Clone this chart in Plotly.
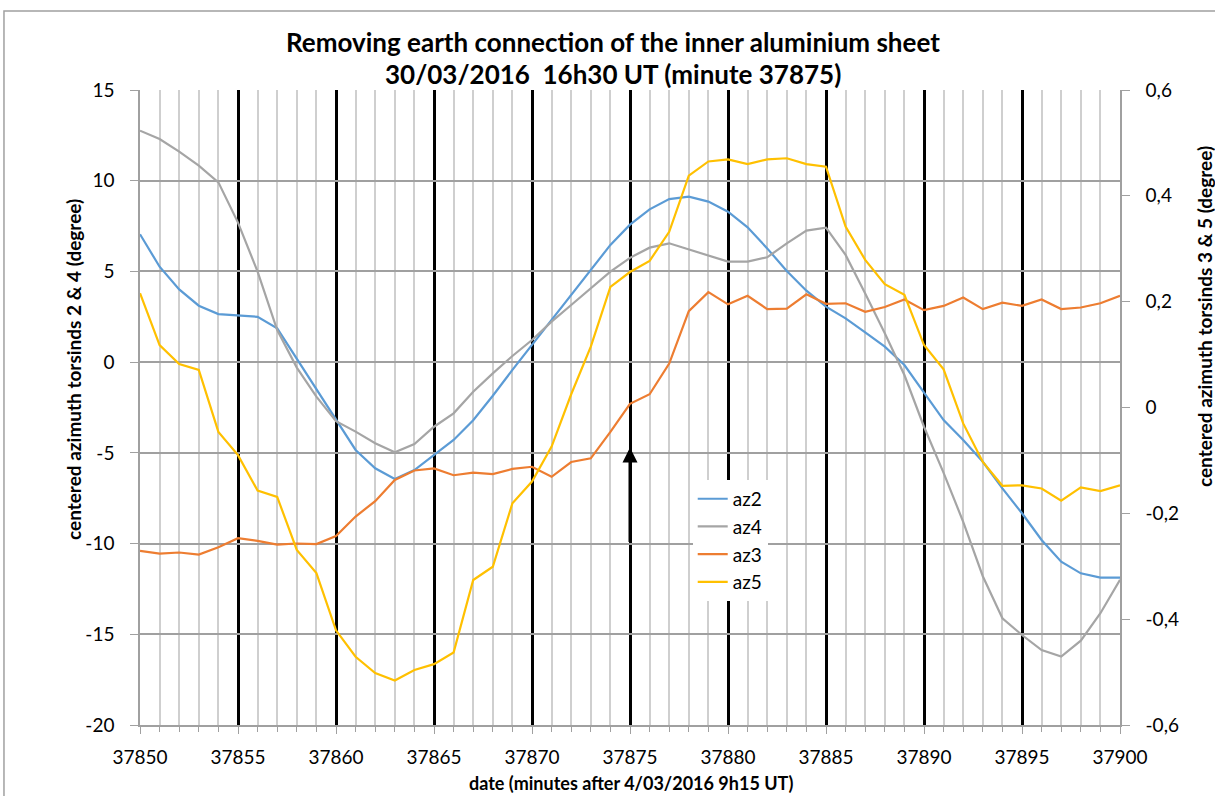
import plotly.graph_objects as go

minutes = list(range(37850, 37901))

az2 = [7.05, 5.26, 4.01, 3.11, 2.65, 2.58, 2.50, 1.86, 0.17, -1.52,
       -3.2, -4.84, -5.85, -6.44, -5.95, -5.12, -4.29, -3.20, -1.85, -0.43,
       0.95, 2.32, 3.70, 5.08, 6.46, 7.58, 8.42, 8.99, 9.12, 8.85,
       8.29, 7.43, 6.27, 5.02, 3.94, 3.06, 2.41, 1.64, 0.85, -0.16,
       -1.70, -3.19, -4.29, -5.49, -6.96, -8.33, -9.80, -11.0, -11.64, -11.88,
       -11.88]

az4 = [12.76, 12.30, 11.60, 10.83, 9.91, 7.69, 4.99, 1.77, -0.30, -1.90,
       -3.25, -3.83, -4.47, -4.97, -4.51, -3.56, -2.82, -1.63, -0.62, 0.34,
       1.22, 2.23, 3.15, 4.07, 4.99, 5.75, 6.31, 6.55, 6.22, 5.91,
       5.54, 5.54, 5.78, 6.55, 7.25, 7.41, 5.91, 3.79, 1.59, -0.71,
       -3.56, -6.10, -8.80, -11.80, -14.12, -15.04, -15.87, -16.23, -15.35, -13.84,
       -12.0]

az3 = [-0.271, -0.276, -0.274, -0.278, -0.264, -0.247, -0.252, -0.259, -0.257, -0.258,
       -0.243, -0.206, -0.177, -0.137, -0.119, -0.115, -0.128, -0.123, -0.126, -0.116,
       -0.112, -0.131, -0.103, -0.096, -0.046, 0.007, 0.025, 0.083, 0.182, 0.218,
       0.195, 0.211, 0.186, 0.187, 0.214, 0.196, 0.197, 0.181, 0.190, 0.204,
       0.184, 0.192, 0.208, 0.186, 0.198, 0.192, 0.204, 0.186, 0.189, 0.197,
       0.211]

az5 = [0.216, 0.118, 0.082, 0.071, -0.046, -0.090, -0.157, -0.169, -0.269, -0.313,
       -0.421, -0.471, -0.502, -0.516, -0.496, -0.485, -0.463, -0.326, -0.301, -0.181,
       -0.140, -0.074, 0.025, 0.115, 0.228, 0.256, 0.277, 0.332, 0.438, 0.465,
       0.469, 0.460, 0.469, 0.471, 0.460, 0.455, 0.342, 0.279, 0.233, 0.213,
       0.118, 0.072, -0.030, -0.103, -0.148, -0.147, -0.153, -0.176, -0.151, -0.158,
       -0.147]

left_ticks = [15, 10, 5, 0, -5, -10, -15, -20]
right_ticks = [0.6, 0.4, 0.2, 0, -0.2, -0.4, -0.6]
right_labels = ["0,6", "0,4", "0,2", "0", "-0,2", "-0,4", "-0,6"]
x_ticks = list(range(37850, 37901, 5))

title_line1 = "Removing earth connection of the inner aluminium sheet"
title_line2 = "30/03/2016  16h30 UT (minute 37875)"
x_title = "date (minutes after 4/03/2016 9h15 UT)"
y_title = "centered azimuth torsinds 2 & 4 (degree)"
y2_title = "centered azimuth torsinds 3 & 5 (degree)"

arrow_x = 37875
arrow_tail = -10
arrow_head = -4.7

FONT = "Lato"

fig = go.Figure()
fig.add_trace(go.Scatter(x=minutes, y=az2, name="az2", mode="lines",
                         line=dict(color="#5B9BD5", width=2.2)))
fig.add_trace(go.Scatter(x=minutes, y=az4, name="az4", mode="lines",
                         line=dict(color="#A5A5A5", width=2.2)))
fig.add_trace(go.Scatter(x=minutes, y=az3, name="az3", mode="lines", yaxis="y2",
                         line=dict(color="#ED7D31", width=2.2)))
fig.add_trace(go.Scatter(x=minutes, y=az5, name="az5", mode="lines", yaxis="y2",
                         line=dict(color="#FFC000", width=2.2)))

fig.add_annotation(x=arrow_x, y=arrow_head, ax=arrow_x, ay=arrow_tail,
                   xref="x", yref="y", axref="x", ayref="y",
                   showarrow=True, arrowhead=2, arrowsize=1, arrowwidth=3,
                   arrowcolor="black", text="")

# titles as annotations
fig.add_annotation(text="<b>" + title_line1 + "</b>", xref="paper", yref="paper",
                   x=0.4827, y=1.0756, xanchor="center", yanchor="middle",
                   showarrow=False, font=dict(family=FONT, size=26, color="black"))
fig.add_annotation(text="<b>" + title_line2 + "</b>", xref="paper", yref="paper",
                   x=0.4827, y=1.0252, xanchor="center", yanchor="middle",
                   showarrow=False, font=dict(family=FONT, size=26, color="black"))
fig.add_annotation(text="<b>" + x_title + "</b>", xref="paper", yref="paper",
                   x=0.501, y=-0.0913, xanchor="center", yanchor="middle",
                   showarrow=False, font=dict(family=FONT, size=18, color="black"))
fig.add_annotation(text="<b>" + y_title + "</b>", xref="paper", yref="paper",
                   x=-0.0684, y=0.5606, xanchor="center", yanchor="middle",
                   textangle=-90, showarrow=False,
                   font=dict(family=FONT, size=19, color="black"))
fig.add_annotation(text="<b>" + y2_title + "</b>", xref="paper", yref="paper",
                   x=1.0857, y=0.644, xanchor="center", yanchor="middle",
                   textangle=-90, showarrow=False,
                   font=dict(family=FONT, size=19, color="black"))

fig.add_shape(type="rect", xref="paper", yref="paper",
              x0=-0.1388, x1=1.2, y0=-0.2, y1=1.1244,
              line=dict(color="#A0A0A0", width=1.5), layer="below")

fig.update_layout(
    width=1215, height=796,
    margin=dict(l=140, r=95, t=90, b=71),
    paper_bgcolor="white", plot_bgcolor="white",
    font=dict(family=FONT, size=19, color="black"),
    showlegend=True,
    legend=dict(x=0.564, y=0.386, xanchor="left", yanchor="top",
                bgcolor="white", borderwidth=0,
                font=dict(family=FONT, size=19), tracegroupgap=0,
                itemwidth=30),
    xaxis=dict(range=[37850, 37900], tickvals=x_ticks, ticktext=[str(t) for t in x_ticks],
               showgrid=True, gridcolor="black", gridwidth=2.5,
               minor=dict(dtick=1, tick0=37850, showgrid=True, gridcolor="#CFCFCF", gridwidth=1.5,
                          ticks="outside", ticklen=5, tickcolor="#A0A0A0"),
               showline=True, linecolor="#A0A0A0", linewidth=1.5,
               ticks="outside", ticklen=7, tickcolor="#A0A0A0",
               ticklabelstandoff=7,
               zeroline=False),
    yaxis=dict(range=[-20, 15], tickvals=left_ticks, ticktext=[str(t) for t in left_ticks],
               showgrid=True, gridcolor="#A0A0A0", gridwidth=1.5,
               showline=True, linecolor="#A0A0A0", linewidth=1.5,
               ticks="outside", ticklen=8, tickcolor="#A0A0A0",
               ticklabelstandoff=12, zeroline=False),
    yaxis2=dict(range=[-0.6, 0.6], overlaying="y", side="right",
                tickvals=right_ticks, ticktext=right_labels,
                showgrid=False, zeroline=False,
                showline=True, linecolor="#A0A0A0", linewidth=1.5,
                ticks="outside", ticklen=8, tickcolor="#A0A0A0",
                ticklabelstandoff=12),
)

fig.write_html("out.html")
